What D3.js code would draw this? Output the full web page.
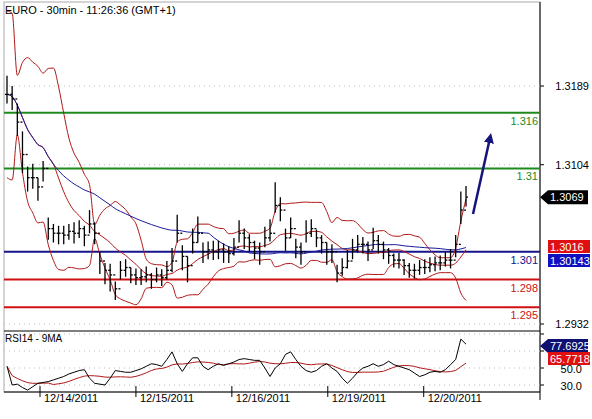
<!DOCTYPE html>
<html><head><meta charset="utf-8">
<script src="https://cdn.jsdelivr.net/npm/d3@7"></script>
<style>body{margin:0;background:#fff}svg{font-family:Arial,"Liberation Sans",sans-serif}</style>
</head><body><div id="chart"></div>
<script>
// closes every ~5px
const closes = [1.3180,1.3175,1.3150,1.3115,1.3090,1.3090,1.3080,1.3100,1.3035,1.3030,1.3030,1.3028,1.3032,1.3030,1.3035,1.3028,1.3040,1.3030,1.3000,1.2990,
  1.2985,1.2970,1.2990,1.2993,1.2985,1.2982,1.2983,1.2985,1.2980,1.2985,1.2982,1.2990,1.3000,1.3030,1.3005,1.2995,1.3020,1.3030,1.3010,1.3012,
  1.3010,1.3012,1.3010,1.3008,1.3015,1.3030,1.3025,1.3020,1.3014,1.3010,1.3025,1.3030,1.3060,1.3055,1.3025,1.3035,1.3015,1.3010,1.3030,1.3035,
  1.3025,1.3020,1.3010,1.3010,1.2987,1.2993,1.3000,1.3012,1.3018,1.3018,1.3012,1.3022,1.3018,1.3012,1.3006,1.3001,1.3001,1.2995,1.2990,1.2990,
  1.2993,1.2993,1.2996,1.2998,1.2998,1.3001,1.3001,1.3018,1.3055,1.3069];
// bar range in pips (high above close, low below close)
const upPips = [20,14,20,25,12,15,10,8,12,10,8,10,8,12,9,10,15,12,10,8,
  12,8,10,9,8,10,8,9,7,8,9,10,14,20,12,10,15,18,10,9,
  12,10,9,8,10,14,10,9,8,10,12,15,25,14,10,12,9,10,14,10,
  9,8,10,8,9,10,12,12,10,8,9,14,10,9,8,7,8,7,8,7,
  8,9,8,7,8,9,12,10,20,12];
const dnPips = [10,12,15,20,15,12,15,14,12,10,12,10,9,11,10,12,10,12,14,15,
  18,12,10,10,9,8,9,8,10,8,9,10,12,10,15,18,12,10,12,10,
  9,10,12,10,9,10,12,10,12,14,10,9,8,12,14,10,12,14,10,9,
  10,12,14,12,10,9,8,10,9,10,12,9,10,10,9,8,9,10,8,9,
  8,7,8,9,8,7,9,14,15,10];
const rsiVals = [52,30,31,27,24,28,32,33,34,36,38,40,43,45,47,48,38,32,31,30,
  38,47,46,45,45,47,49,52,55,54,52,60,69,55,46,55,62,62,52,48,
  52,55,53,55,57,60,61,60,59,59,50,40,50,55,66,69,60,52,47,45,
  47,52,55,50,46,38,32,38,45,50,52,55,52,54,58,54,52,50,48,44,
  40,42,45,46,45,48,54,60,84,78];
const dateLabels = ["12/14/2011","12/15/2011","12/16/2011","12/19/2011","12/20/2011"];
const dateIdx = [6.4,25.0,43.6,62.2,80.8];
const levels = [1.316,1.31,1.301,1.298,1.295];
const levelColors = ["#1e8a1e","#1e8a1e","#14148c","#d01010","#d01010"];
const priceTicks = [1.3189,1.3104,1.2932];
const rsiTicks = [30,50,70,90];

const W=592,H=419, L=4, R=540, T=2, MB=331, RB=392;
const svg=d3.select("#chart").append("svg").attr("width",W).attr("height",H);
const x=d3.scaleLinear().domain([0,closes.length-1]).range([7,466]);
const y=d3.scaleLinear().domain([1.2932,1.3189]).range([324,86]);
const yr=d3.scaleLinear().domain([30,50]).range([385,368]);
const highs=closes.map((c,i)=>c+upPips[i]/10000), lows=closes.map((c,i)=>c-dnPips[i]/10000);

// indicators
function sma(a,n){return a.map((v,i)=>d3.mean(a.slice(Math.max(0,i-n+1),i+1)));}
const N=10;
const mid=sma(closes,N);
const sd=closes.map((v,i)=>{const s=closes.slice(Math.max(0,i-N+1),i+1);return s.length>2?d3.deviation(s):0.0045;});
const up=mid.map((m,i)=>m+2*sd[i]), dn=mid.map((m,i)=>m-2*sd[i]);
const slow=sma(closes,40);
const rsiMa=sma(rsiVals,9);

// frames
svg.append("rect").attr("x",L).attr("y",T).attr("width",R-L).attr("height",RB-T).attr("fill","none").attr("stroke","#aaa");
svg.append("line").attr("x1",R).attr("x2",R).attr("y1",T).attr("y2",RB+8).attr("stroke","#000");
svg.append("line").attr("x1",L).attr("x2",R).attr("y1",MB).attr("y2",MB).attr("stroke","#000");
svg.append("line").attr("x1",L).attr("x2",R).attr("y1",RB).attr("y2",RB).attr("stroke","#000");

// grids
priceTicks.forEach(t=>{svg.append("line").attr("x1",L).attr("x2",R).attr("y1",y(t)).attr("y2",y(t)).attr("stroke","#bbb").attr("stroke-dasharray","1,4");
  svg.append("line").attr("x1",R).attr("x2",R+4).attr("y1",y(t)).attr("y2",y(t)).attr("stroke","#000");
  svg.append("text").attr("x",589).attr("y",y(t)+4).attr("text-anchor","end").attr("font-size",11).text(t.toFixed(4));});
rsiTicks.forEach(t=>{svg.append("line").attr("x1",L).attr("x2",R).attr("y1",yr(t)).attr("y2",yr(t)).attr("stroke","#bbb").attr("stroke-dasharray","1,4");
  svg.append("line").attr("x1",R).attr("x2",R+4).attr("y1",yr(t)).attr("y2",yr(t)).attr("stroke","#000");});
[30,50].forEach(t=>svg.append("text").attr("x",582).attr("y",yr(t)+5).attr("text-anchor","end").attr("font-size",11).text(t.toFixed(1)));
dateIdx.forEach((d,i)=>{const xx=x(d);
  svg.append("line").attr("x1",xx).attr("x2",xx).attr("y1",RB-6).attr("y2",RB+5).attr("stroke","#000");
  svg.append("text").attr("x",xx+4).attr("y",RB+10).attr("font-size",11).text(dateLabels[i]);});

// levels
levels.forEach((lv,i)=>{svg.append("line").attr("x1",L).attr("x2",R).attr("y1",y(lv)).attr("y2",y(lv)).attr("stroke",levelColors[i]).attr("stroke-width",2);
  svg.append("text").attr("x",R-2).attr("y",y(lv)+12).attr("text-anchor","end").attr("font-size",11).attr("fill",levelColors[i]).text(String(lv));});

const line=d3.line().x((d,i)=>x(i)).y(d=>y(d)).curve(d3.curveMonotoneX);
[up,dn,mid].forEach(s=>svg.append("path").attr("d",line(s)).attr("fill","none").attr("stroke","#b01818"));
svg.append("path").attr("d",line(slow)).attr("fill","none").attr("stroke","#1a1a9a");

// bars
const g=svg.append("g").attr("stroke","#000").attr("stroke-width",1.3);
closes.forEach((c,i)=>{const o=i?closes[i-1]:c;
  g.append("line").attr("x1",x(i)).attr("x2",x(i)).attr("y1",y(highs[i])).attr("y2",y(lows[i]));
  g.append("line").attr("x1",x(i)-2).attr("x2",x(i)).attr("y1",y(o)).attr("y2",y(o));
  g.append("line").attr("x1",x(i)).attr("x2",x(i)+2).attr("y1",y(c)).attr("y2",y(c));});

// arrow
svg.append("defs").append("marker").attr("id","ah").attr("viewBox","0 0 10 10").attr("refX",5).attr("refY",5)
  .attr("markerWidth",4).attr("markerHeight",4).attr("orient","auto").append("path").attr("d","M0,0L10,5L0,10z").attr("fill","#14147a");
svg.append("line").attr("x1",473).attr("y1",214).attr("x2",490).attr("y2",138).attr("stroke","#14147a").attr("stroke-width",2.5).attr("marker-end","url(#ah)");

// rsi
const rl=d3.line().x((d,i)=>x(i)).y(d=>yr(d));
svg.append("path").attr("d",rl(rsiMa)).attr("fill","none").attr("stroke","#b01818");
svg.append("path").attr("d",rl(rsiVals)).attr("fill","none").attr("stroke","#000");

// tags
function tag(yy,txt,bg,arrow){const gg=svg.append("g");
  gg.append("path").attr("d",arrow?`M${R},${yy}L${R+8},${yy-7}H${R+48}V${yy+7}H${R+8}Z`:`M${R+8},${yy-7}H${R+50}V${yy+6}H${R+8}Z`).attr("fill",bg);
  gg.append("text").attr("x",R+10).attr("y",yy+4).attr("font-size",11).attr("fill","#fff").text(txt);}
tag(y(1.3069),"1.3069","#000",true);
tag(247,"1.3016","#e01010",false);
tag(261,"1.30143","#1010c0",false);
tag(346,"77.6925","#101070",true);
tag(359,"65.7718","#e01010",false);

svg.append("text").attr("x",5).attr("y",14).attr("font-size",11).text("EURO - 30min - 11:26:36 (GMT+1)");
svg.append("text").attr("x",5).attr("y",342).attr("font-size",10).text("RSI14 - 9MA");
</script></body></html>
